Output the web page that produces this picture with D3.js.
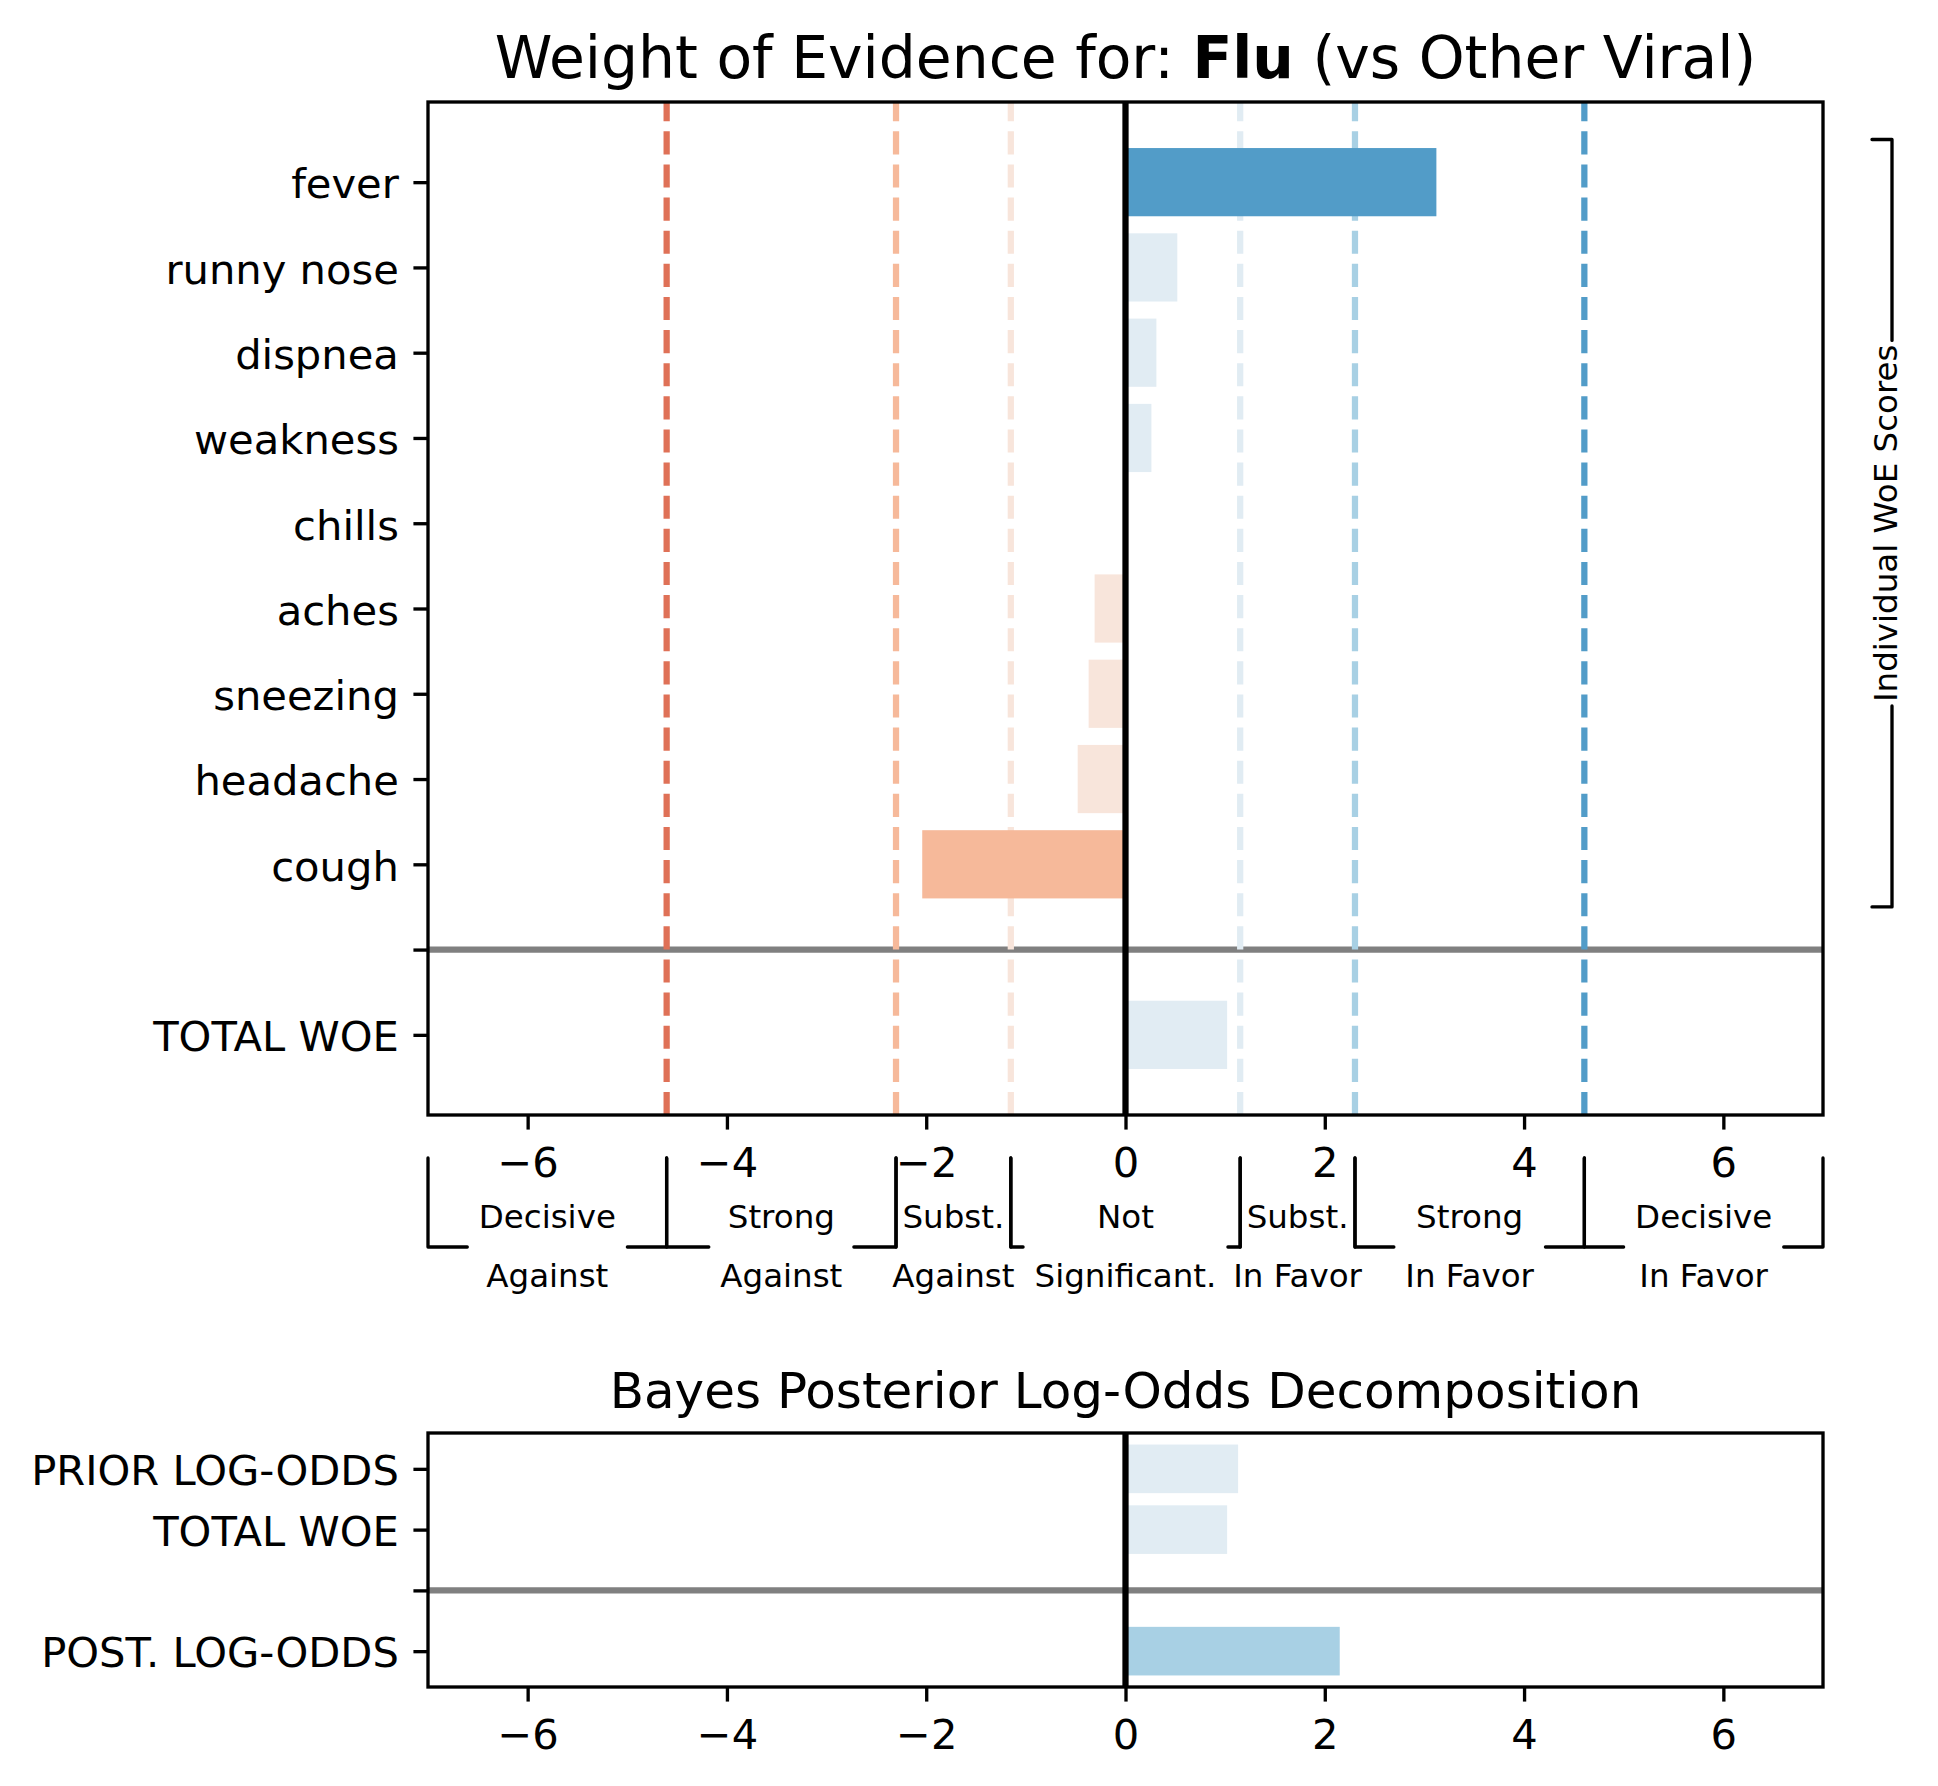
<!DOCTYPE html>
<html>
<head>
<meta charset="utf-8">
<script src="https://cdn.jsdelivr.net/npm/d3@7"></script>
<style>
body { margin: 0; background: #fff; }
text { font-family: "DejaVu Sans", sans-serif; fill: #000; }
</style>
</head>
<body>
<svg id="chart" width="1938" height="1786"></svg>
<script>
// values
var symptoms = ["fever", "runny nose", "dispnea", "weakness", "chills", "aches", "sneezing", "headache", "cough"];
var woe = [3.12, 0.52, 0.31, 0.26, 0, -0.31, -0.37, -0.48, -2.04];
var totalWoe = 1.02;

var decompLabels = ["PRIOR LOG-ODDS", "TOTAL WOE", "POST. LOG-ODDS"];
var decompValues = [1.13, 1.02, 2.15];

// ln(10)/2, ln(10), ln(100)
var thresholds = [-4.605, -2.303, -1.151, 1.151, 2.303, 4.605];
var bandEdges = [-4.605, -2.303, -1.151, 0, 1.151, 2.303, 4.605];
var bandColors = ["#c0403f", "#df7157", "#f6b99a", "#f8e5db", "#e1ecf3", "#a8d0e4", "#529cc8", "#3a7cb6"];

var regionLabels = [["Decisive", "Against"], ["Strong", "Against"], ["Subst.", "Against"],
  ["Not", "Significant."], ["Subst.", "In Favor"], ["Strong", "In Favor"], ["Decisive", "In Favor"]];
var xTicks = [-6, -4, -2, 0, 2, 4, 6];
var xDomain = [-7, 7];

var svg = d3.select("#chart");
var left = 428, right = 1823;
var pt = 300 / 72; // matplotlib points -> px at 300 dpi

var x = d3.scaleLinear().domain(xDomain).range([left, right]);
var color = d3.scaleThreshold().domain(bandEdges).range(bandColors);

function lineColor(t) { return color(t < 0 ? t + 0.001 : t - 0.001); }

function panel(top, bottom, n, labels, values, sepPos, withThresholds) {
  // positions: n-1 ... 0, with the separator at sepPos
  var lo = -0.4, hi = n - 1 + 0.4, m = (hi - lo) * 0.05;
  var y = d3.scaleLinear().domain([lo - m, hi + m]).range([bottom, top]);
  var g = svg.append("g");
  var bh = y(0) - y(0.8);

  // separator
  g.append("line")
    .attr("x1", left).attr("x2", right)
    .attr("y1", y(sepPos)).attr("y2", y(sepPos))
    .attr("stroke", "#808080")
    .attr("stroke-width", 1.5 * pt);

  if (withThresholds) {
    g.selectAll("line.thr")
      .data(thresholds)
      .enter().append("line")
      .attr("class", "thr")
      .attr("x1", function(d) { return x(d); })
      .attr("x2", function(d) { return x(d); })
      .attr("y1", bottom).attr("y2", top)
      .attr("stroke", lineColor)
      .attr("stroke-width", 1.5 * pt)
      .attr("stroke-dasharray", (3.7 * 1.5 * pt) + "," + (1.6 * 1.5 * pt));
  }

  g.selectAll("rect.bar")
    .data(values)
    .enter().append("rect")
    .attr("class", "bar")
    .attr("x", function(d) { return x(Math.min(0, d.v)); })
    .attr("width", function(d) { return Math.abs(x(d.v) - x(0)); })
    .attr("y", function(d) { return y(d.pos) - bh / 2; })
    .attr("height", bh)
    .attr("fill", function(d) { return color(d.v); });

  // zero line
  g.append("line")
    .attr("x1", x(0)).attr("x2", x(0))
    .attr("y1", bottom).attr("y2", top)
    .attr("stroke", "#000")
    .attr("stroke-width", 1.5 * pt);

  // y axis
  var yAxis = d3.axisLeft(y)
    .tickValues(labels.map(function(d) { return d.pos; }))
    .tickFormat(function(p) {
      var f = labels.find(function(d) { return d.pos === p; });
      return f ? f.name : "";
    })
    .tickSize(3.5 * pt)
    .tickPadding(3.5 * pt);
  var ya = g.append("g").attr("transform", "translate(" + left + ",0)").call(yAxis);
  ya.select(".domain").remove();
  ya.selectAll("line").attr("stroke-width", 0.8 * pt);
  ya.selectAll("text").style("font-size", (10 * pt) + "px").attr("font-family", null).attr("dy", "0.38em");

  // x axis
  var xAxis = d3.axisBottom(x).tickValues(xTicks).tickSize(3.5 * pt).tickPadding(17.5);
  var xa = g.append("g").attr("transform", "translate(0," + bottom + ")").call(xAxis);
  xa.select(".domain").remove();
  xa.selectAll("line").attr("stroke-width", 0.8 * pt);
  xa.selectAll("text").style("font-size", (10 * pt) + "px").attr("font-family", null);

  g.append("rect")
    .attr("x", left).attr("y", top)
    .attr("width", right - left).attr("height", bottom - top)
    .attr("fill", "none").attr("stroke", "#000")
    .attr("stroke-width", 0.8 * pt);
  return y;
}

// ---- top panel ----
var topVals = woe.map(function(v, i) { return { v: v, pos: 10 - i }; });
topVals.push({ v: totalWoe, pos: 0 });
var topLabels = symptoms.map(function(s, i) { return { name: s, pos: 10 - i }; });
topLabels.push({ name: "", pos: 1 });
topLabels.push({ name: "TOTAL WOE", pos: 0 });
var yTop = panel(102, 1115, 11, topLabels, topVals, 1, true);

// ---- bottom panel ----
var botPos = [3, 2, 0];
var botVals = decompValues.map(function(v, i) { return { v: v, pos: botPos[i] }; });
var botLabels = decompLabels.map(function(s, i) { return { name: s, pos: botPos[i] }; });
botLabels.push({ name: "", pos: 1 });
panel(1433, 1687, 4, botLabels, botVals, 1, false);

// titles
var t1 = svg.append("text")
  .attr("x", (left + right) / 2).attr("y", 78)
  .attr("text-anchor", "middle")
  .style("font-size", (14 * pt) + "px");
t1.append("tspan").text("Weight of Evidence for: ");
t1.append("tspan").attr("font-weight", "bold").text("Flu");
t1.append("tspan").text(" (vs Other Viral)");

svg.append("text")
  .attr("x", (left + right) / 2).attr("y", 1408)
  .attr("text-anchor", "middle")
  .style("font-size", (12 * pt) + "px")
  .text("Bayes Posterior Log-Odds Decomposition");

// region brackets under the x axis
var edges = [xDomain[0]].concat(thresholds).concat([xDomain[1]]);
var brTop = 1158, brBot = 1247, smallFont = 32.5, pad = 11.5;
var br = svg.append("g");
regionLabels.forEach(function(lines, i) {
  var a = x(edges[i]), b = x(edges[i + 1]), cx = (a + b) / 2;
  var txt = br.append("g");
  var w = 0;
  lines.forEach(function(s, k) {
    var t = txt.append("text")
      .attr("x", cx).attr("y", 1228 + k * 59)
      .attr("text-anchor", "middle")
      .style("font-size", smallFont + "px")
      .text(s);
    w = Math.max(w, t.node().getComputedTextLength());
  });
  var hook = Math.max(0, (b - a - w) / 2 - pad);
  var p = d3.path();
  p.moveTo(a + hook, brBot); p.lineTo(a, brBot); p.lineTo(a, brTop);
  p.moveTo(b - hook, brBot); p.lineTo(b, brBot); p.lineTo(b, brTop);
  br.append("path")
    .attr("d", p.toString())
    .attr("fill", "none").attr("stroke", "#000")
    .attr("stroke-width", 0.8 * pt)
    .attr("stroke-linejoin", "round").attr("stroke-linecap", "round");
});

// side bracket for individual scores
var bx = 1892, by0 = yTop(10.5), by1 = yTop(1.5), bmid = (by0 + by1) / 2;
var side = svg.append("text")
  .attr("transform", "translate(" + (bx - 6) + "," + bmid + ") rotate(-90)")
  .attr("text-anchor", "middle")
  .attr("dominant-baseline", "central")
  .style("font-size", smallFont + "px")
  .text("Individual WoE Scores");
var half = side.node().getComputedTextLength() / 2 + 4;
var sp = d3.path();
sp.moveTo(bx - 20, by0); sp.lineTo(bx, by0); sp.lineTo(bx, bmid - half);
sp.moveTo(bx - 20, by1); sp.lineTo(bx, by1); sp.lineTo(bx, bmid + half);
svg.append("path")
  .attr("d", sp.toString())
  .attr("fill", "none").attr("stroke", "#000")
  .attr("stroke-width", 0.8 * pt)
  .attr("stroke-linejoin", "round").attr("stroke-linecap", "round");
</script>
</body>
</html>
